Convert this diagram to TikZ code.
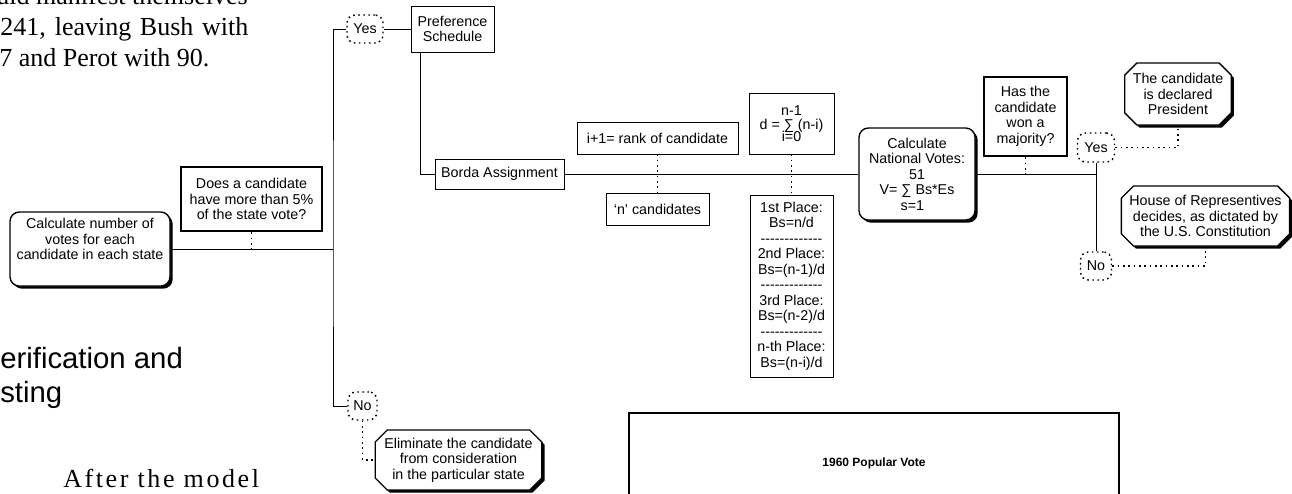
\documentclass[tikz,border=0pt]{standalone}
\usepackage{fontspec}
\setmainfont{Liberation Serif}
\newfontfamily\chartfont{Liberation Sans}
\usepackage{tikz}
\usetikzlibrary{positioning, shapes.misc, shadows}
\newcommand{\placesep}{-{}-{}-{}-{}-{}-{}-{}-{}-{}-{}-{}-{}-}

\begin{document}
\begin{tikzpicture}[
    x=0.75pt, y=-0.75pt,
    font=\chartfont\fontsize{10.7}{11.6}\selectfont,
    plainbox/.style={rectangle, draw, line width=0.6pt, fill=white, inner sep=0pt, align=center},
    askbox/.style={plainbox, line width=2pt},
    roundbox/.style={plainbox, line width=1pt, rounded corners=7pt,
                     drop shadow={shadow xshift=2pt, shadow yshift=-2pt, opacity=1, fill=black}},
    cutbox/.style={chamfered rectangle, chamfered rectangle xsep=6pt, draw, line width=1pt,
                   fill=white, inner sep=0pt, align=center,
                   drop shadow={shadow xshift=2pt, shadow yshift=-2pt, opacity=1, fill=black}},
    answer/.style={draw, line width=1.1pt, dash pattern=on 1.2pt off 2.6pt, rounded corners=6pt, inner sep=0pt},
    link/.style={line width=0.6pt},
    dotlink/.style={line width=1.1pt, dash pattern=on 1.2pt off 2.8pt},
    prose/.style={inner sep=0pt, font=\rmfamily\fontsize{19.5}{23}\selectfont}
]
    \useasboundingbox (0,0) rectangle (1292,493);
    \clip (0,0) rectangle (1292,493);

    \node[prose, anchor=base east] (para1) at (248,4) {uld manifest themselves};
    \node[prose, anchor=base west] (para2) at (0,35) {\makebox[186pt][s]{241, leaving Bush with}};
    \node[prose, anchor=base west] (para3) at (-1,66) {7 and Perot with 90.};
    \node[inner sep=0pt, anchor=base west, font=\chartfont\fontsize{22}{25}\selectfont] (head1) at (0,368) {erification and};
    \node[inner sep=0pt, anchor=base west, font=\chartfont\fontsize{22}{25}\selectfont] (head2) at (0,402) {sting};
    \node[prose, anchor=base west, font=\rmfamily\fontsize{19.5}{23}\selectfont\addfontfeature{LetterSpace=10}] (para4) at (63,487) {After the model};

    \node[roundbox, minimum width=120pt, minimum height=55.5pt] (calc) at (90,249) {Calculate number of\\votes for each\\candidate in each state\\\strut};
    \node[askbox, minimum width=105.75pt, minimum height=48pt] (share) at (251.5,199) {Does a candidate\\have more than 5\%\\of the state vote?};
    \node[answer, minimum width=27pt, minimum height=21pt] (yes1) at (365,29) {Yes};
    \node[answer, minimum width=21.75pt, minimum height=21pt] (no1) at (362.5,406) {No};
    \node[plainbox, minimum width=62.25pt, minimum height=34.5pt] (pref) at (452.5,29) {Preference\\Schedule};
    \node[plainbox, minimum width=96.75pt, minimum height=22.5pt] (borda) at (499.5,174) {Borda Assignment};
    \node[cutbox, minimum width=125pt, minimum height=45pt] (elim) at (458.5,460) {Eliminate the candidate\\from consideration\\in the particular state};
    \node[plainbox, minimum width=120.75pt, minimum height=24pt] (rank) at (657.5,138) {i+1= rank of candidate};
    \node[plainbox, minimum width=77.25pt, minimum height=24pt] (ncand) at (657.5,209) {‘n’ candidates};
    \node[plainbox, minimum width=63.75pt, minimum height=45.75pt] (dsum) at (791.5,123.5) {n-1\\[-1.5pt]d = ∑ (n-i)\\[-2.5pt]i=0};
    \node[plainbox, minimum width=62.25pt, minimum height=136.5pt] (places) at (791.5,286)
        {1st Place:\\Bs=n/d\\\placesep\\2nd Place:\\Bs=(n-1)/d\\\placesep\\3rd Place:\\Bs=(n-2)/d\\\placesep\\n-th Place:\\Bs=(n-i)/d};
    \node[roundbox, minimum width=87pt, minimum height=69pt] (natl) at (917,174) {Calculate\\National Votes:\\51\hspace*{7pt}\\V= ∑ Bs*Es\\s=1\hspace*{7pt}};
    \node[askbox, minimum width=62.25pt, minimum height=59.25pt] (major) at (1025.5,116.5) {Has the\\candidate\\won a\\majority?};
    \node[answer, minimum width=27.75pt, minimum height=21.75pt] (yes2) at (1096,147.5) {Yes};
    \node[answer, minimum width=23.25pt, minimum height=21pt] (no2) at (1096,266) {No};
    \node[cutbox, minimum width=78pt, minimum height=46.5pt] (pres) at (1178,94) {The candidate\\is declared\\President};
    \node[cutbox, minimum width=123.75pt, minimum height=45pt] (house) at (1205.5,216) {House of Representives\\decides, as dictated by\\the U.S. Constitution};
    \node[plainbox, line width=1.5pt, minimum width=367.5pt, minimum height=75pt,
          font=\chartfont\bfseries\fontsize{9}{11}\selectfont] (popvote) at (874,463) {1960 Popular Vote};

    \coordinate (split) at (333,249);
    \coordinate (join) at (1096,174);
    \draw[link] (calc.east) -- (split);
    \draw[link] (yes1.west) -| (split) |- (no1.west);
    \draw[dotlink] (share.south) -- (share.south |- split);
    \draw[dotlink] (no1.south) |- (elim.west);
    \draw[link] (yes1.east) -- (pref.west);
    \draw[link] ([xshift=7.5pt]pref.south west) |- (borda.west);
    \draw[link] (borda.east) -- (natl.west);
    \draw[dotlink] (rank.south) -- (ncand.north);
    \draw[dotlink] (dsum.south) -- (places.north);
    \draw[link] (natl.east) -- (join);
    \draw[link] (yes2.south) -- (no2.north);
    \draw[dotlink] (major.south) -- (major.south |- join);
    \draw[dotlink] (yes2.east) -| (pres.south);
    \draw[dotlink] (no2.east) -| (house.south);
\end{tikzpicture}
\end{document}
